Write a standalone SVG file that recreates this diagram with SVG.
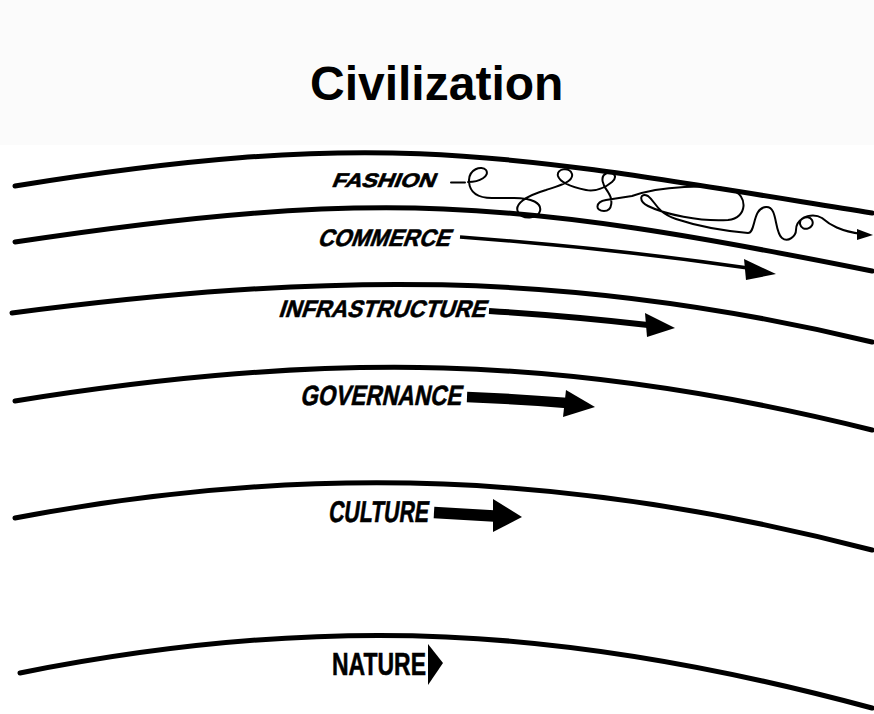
<svg xmlns="http://www.w3.org/2000/svg" width="874" height="714" viewBox="0 0 874 714">
<style>
.arc{fill:none;stroke:#000;stroke-width:5;stroke-linecap:round}
.lbl{font-family:"Liberation Sans",Arial,sans-serif;font-weight:bold;fill:#000;stroke:#000;stroke-width:0.6}
.sq{fill:none;stroke:#000;stroke-width:2;stroke-linecap:round;stroke-linejoin:round}
.shaft{fill:none;stroke:#000;stroke-linecap:butt}
</style>
<rect x="0" y="0" width="874" height="714" fill="#fff"/>
<rect x="0" y="0" width="874" height="145" fill="#fbfbfb"/>
<text x="310" y="100" font-family="'Liberation Sans',Arial,sans-serif" font-weight="bold" font-size="48" fill="#000">Civilization</text>

<g id="arcs">
<path class="arc" d="M15 186 C386 126.6 501 153.6 872 213"/>
<path class="arc" d="M15 242 C377 187.7 510 198.6 872 271"/>
<path class="arc" d="M12 313 C319 273 565 268.3 872 342"/>
<path class="arc" d="M15 401 C324 351.6 563 352.8 872 430"/>
<path class="arc" d="M15 518 C311 461.8 576 473 872 550"/>
<path class="arc" d="M20 673 C324 612.2 568 625.9 872 708"/>
</g>

<g id="fashion">
<g transform="translate(331,187) skewX(-22)"><text class="lbl" x="0" y="0" font-size="19.5" textLength="103" lengthAdjust="spacingAndGlyphs">FASHION</text></g>
</g>
<g id="commerce">
<g transform="translate(317,246) skewX(-20)"><text class="lbl" x="0" y="0" font-size="24" textLength="132" lengthAdjust="spacingAndGlyphs">COMMERCE</text></g>
</g>
<g id="infrastructure">
<g transform="translate(278,317) skewX(-18)"><text class="lbl" x="0" y="0" font-size="24" textLength="207" lengthAdjust="spacingAndGlyphs">INFRASTRUCTURE</text></g>
</g>
<g id="governance">
<g transform="translate(300,405) skewX(-12)"><text class="lbl" x="0" y="0" font-size="28" textLength="161" lengthAdjust="spacingAndGlyphs">GOVERNANCE</text></g>
</g>
<g id="culture">
<g transform="translate(328,522) skewX(-8)"><text class="lbl" x="0" y="0" font-size="30" textLength="100" lengthAdjust="spacingAndGlyphs">CULTURE</text></g>
</g>
<g id="nature">
<text class="lbl" x="332" y="675" font-size="32" textLength="94" lengthAdjust="spacingAndGlyphs">NATURE</text>
</g>

<g id="connectors">
<!-- fashion squiggle -->
<path class="sq" d="M451 182.5 L465 182.5"/>
<path class="sq" d="M468 182 C480 182 490 176 486 170 C482 165 468 169 469 182 C470 193 478 198 492 198 L514 198 C532 198 542 203 540 211 C538 219 522 220 518 212 C514 204 526 196 546 190 C558 186 574 182 572 174 C570 167 556 168 558 176 C560 183 572 187 586 190 C596 192 606 187 612 182 C618 177 614 171 607 173 C599 176 603 186 608 192 C613 199 613 211 604 211 C595 211 595 202 606 200 L632 196 C660 186 710 184 732 190 C748 195 748 218 728 220 C700 222 664 214 648 206 C638 201 640 192 648 196 C656 202 656 212 676 219 C700 227 726 231 748 233 C756 233 752 208 766 207 C778 206 774 232 782 238 C788 243 796 236 796 230 C796 220 808 213 812 220 C816 228 802 233 800 224 C799 216 814 213 822 218 C830 225 840 231 862 234"/>
<polygon points="857,229 873,235 857,240"/>
<!-- commerce -->
<path class="shaft" stroke-width="3.5" d="M460 237 Q610 248 748 268"/>
<polygon points="744,259 776,274 746,280"/>
<!-- infrastructure -->
<path class="shaft" stroke-width="6" d="M489 311 Q570 316 648 325"/>
<polygon points="645,313 675,328 647,337"/>
<!-- governance -->
<path class="shaft" stroke-width="10.5" d="M467 397 Q520 399 567 403"/>
<polygon points="566,390 595,407 563,417"/>
<!-- culture -->
<path class="shaft" stroke-width="11.5" d="M434 512.5 L494 516"/>
<polygon points="493,499 522,517 493,532"/>
<!-- nature -->
<polygon points="428,644 443,663 428,685"/>
</g>
</svg>
